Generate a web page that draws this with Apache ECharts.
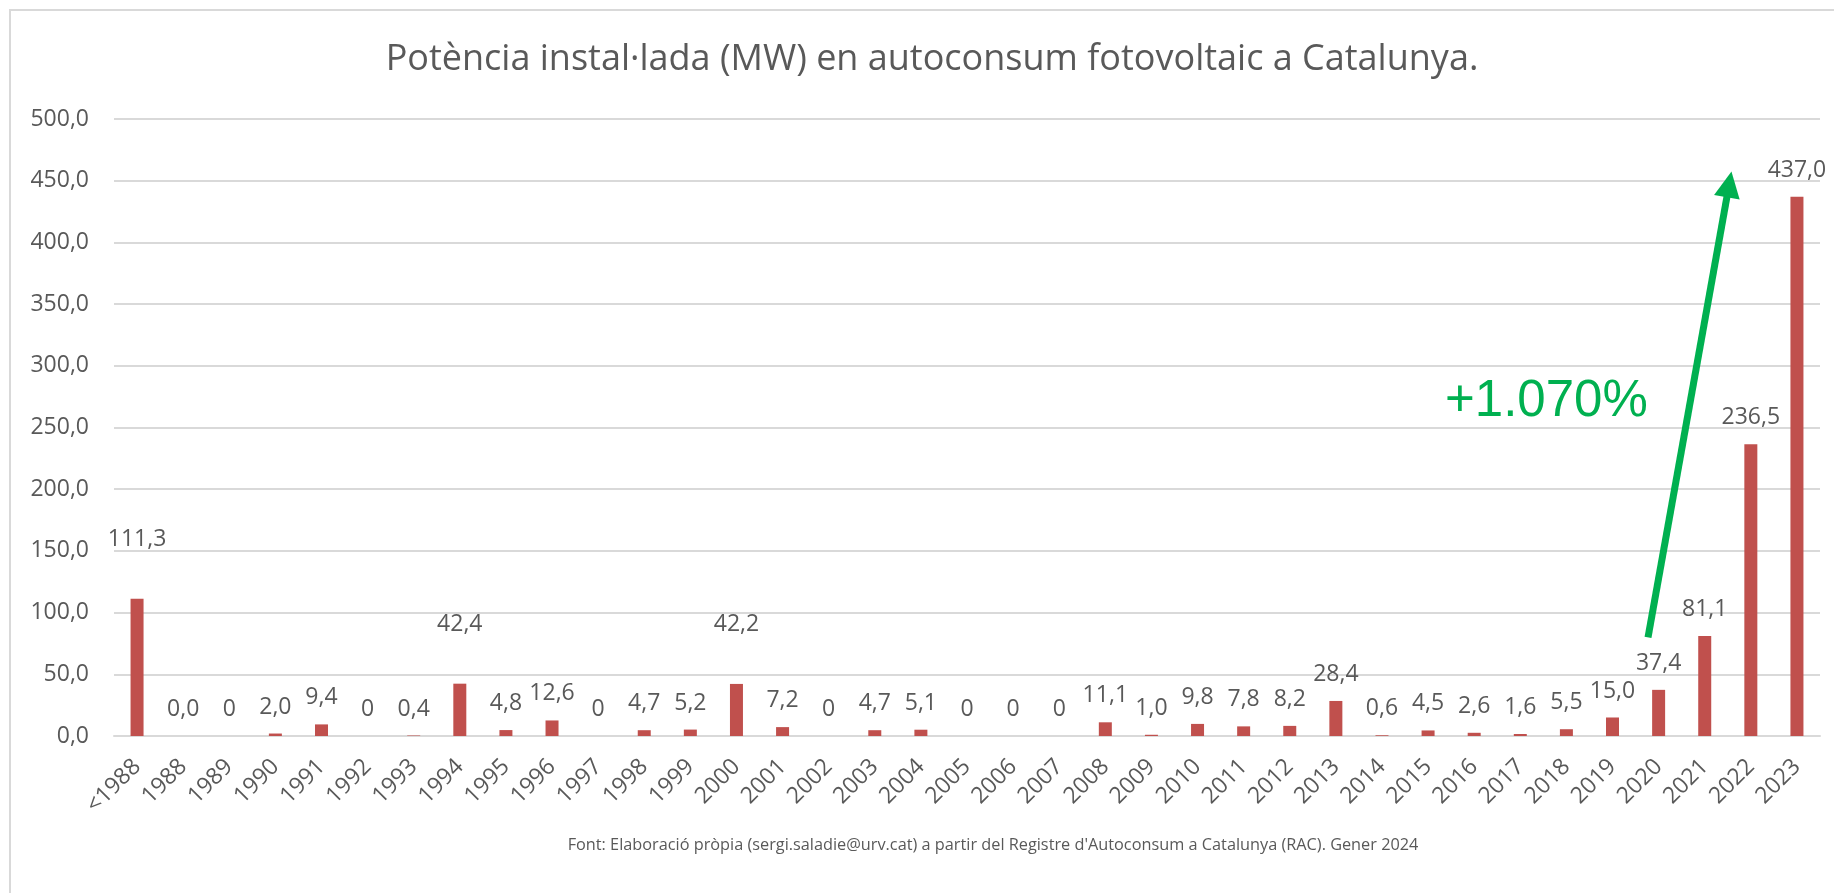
<!DOCTYPE html>
<html>
<head>
<meta charset="utf-8">
<title>Potència instal·lada en autoconsum fotovoltaic</title>
<script src="https://cdn.jsdelivr.net/npm/echarts@6/dist/echarts.min.js"></script>
<style>
  html, body { margin: 0; padding: 0; background: #fff; }
  #chart { width: 1834px; height: 893px; }
</style>
</head>
<body>
<div id="chart"></div>
<script>
// anys (categories de l'eix X)
const years = ["<1988", "1988", "1989", "1990", "1991", "1992", "1993", "1994", "1995", "1996",
  "1997", "1998", "1999", "2000", "2001", "2002", "2003", "2004", "2005", "2006", "2007",
  "2008", "2009", "2010", "2011", "2012", "2013", "2014", "2015", "2016", "2017", "2018",
  "2019", "2020", "2021", "2022", "2023"];

// potència instal·lada (MW) per any
const powerMW = [111.3, 0.02, 0, 2.0, 9.4, 0, 0.4, 42.4, 4.8, 12.6,
  0, 4.7, 5.2, 42.2, 7.2, 0, 4.7, 5.1, 0, 0, 0,
  11.1, 1.0, 9.8, 7.8, 8.2, 28.4, 0.6, 4.5, 2.6, 1.6, 5.5,
  15.0, 37.4, 81.1, 236.5, 437.0];

// marques de l'eix Y
const yTicks = [0, 50, 100, 150, 200, 250, 300, 350, 400, 450, 500];

// fletxa verda (posició d'eix en índex de categoria, valor en MW)
const arrowFrom = [32.77, 80];
const arrowTo = [34.53, 447];
const arrowText = "+1.070%";

const grey = "#595959";
const font = "'Open Sans', sans-serif";

// format català: coma decimal
function fmt(v) {
  if (v === 0) return "0";
  return v.toFixed(1).replace(".", ",");
}

// a l'original algunes etiquetes estan desplaçades amunt
const raisedLabels = ["<1988", "1994", "2000"];

const barData = powerMW.map((v, i) => {
  if (raisedLabels.indexOf(years[i]) >= 0) {
    return { value: v, label: { distance: 48 } };
  }
  return v;
});

const chart = echarts.init(document.getElementById("chart"));

chart.setOption({
  animation: false,
  backgroundColor: "#ffffff",
  title: [
    {
      text: "Potència instal·lada (MW) en autoconsum fotovoltaic a Catalunya.",
      left: 932,
      top: 42,
      textAlign: "center",
      padding: 0,
      textStyle: { color: grey, fontFamily: font, fontSize: 36, fontWeight: "normal" }
    },
    {
      text: "Font: Elaboració pròpia (sergi.saladie@urv.cat) a partir del Registre d'Autoconsum a Catalunya (RAC). Gener 2024",
      left: 993,
      top: 837,
      textAlign: "center",
      padding: 0,
      textStyle: { color: grey, fontFamily: font, fontSize: 16.3, fontWeight: "normal" }
    }
  ],
  grid: {
    left: 114,
    right: 14,
    top: 119,
    bottom: 157,
    containLabel: false,
    outerBoundsMode: "none"
  },
  xAxis: [
    {
      type: "category",
      data: years,
      axisLine: { lineStyle: { color: "#D9D9D9", width: 2 } },
      axisTick: { show: false },
      axisLabel: {
        interval: 0,
        rotate: 45,
        margin: 27,
        color: grey,
        fontFamily: font,
        fontSize: 23
      }
    },
    {
      // eix auxiliar per situar la fletxa
      type: "value",
      show: false,
      min: -0.5,
      max: 36.5
    }
  ],
  yAxis: {
    type: "value",
    min: yTicks[0],
    max: yTicks[yTicks.length - 1],
    interval: 50,
    axisLine: { show: false },
    axisTick: { show: false },
    splitLine: { lineStyle: { color: "#D9D9D9", width: 2 } },
    axisLabel: {
      margin: 25,
      color: grey,
      fontFamily: font,
      fontSize: 23,
      formatter: v => v.toFixed(1).replace(".", ",")
    }
  },
  series: [
    {
      type: "bar",
      data: barData,
      barWidth: 13,
      itemStyle: { color: "#C0504D" },
      label: {
        show: true,
        position: "top",
        distance: 15,
        color: grey,
        fontFamily: font,
        fontSize: 23,
        formatter: p => fmt(p.value)
      }
    },
    {
      // fletxa de creixement
      type: "line",
      xAxisIndex: 1,
      data: [],
      silent: true,
      markLine: {
        silent: true,
        symbol: ["none", "triangle"],
        symbolSize: [26, 26],
        label: { show: false },
        lineStyle: { color: "#00B050", width: 7, type: "solid" },
        data: [[{ coord: arrowFrom }, { coord: arrowTo }]]
      }
    }
  ],
  graphic: [
    {
      // vora del gràfic
      type: "rect",
      silent: true,
      shape: { x: 10, y: 10, width: 1900, height: 1000 },
      style: { fill: "none", stroke: "#D9D9D9", lineWidth: 2 }
    },
    {
      type: "text",
      left: 1445,
      top: 376,
      silent: true,
      style: {
        text: arrowText,
        fill: "#00B050",
        font: "51px 'Liberation Sans', Arial, sans-serif"
      }
    }
  ]
});
</script>
</body>
</html>
